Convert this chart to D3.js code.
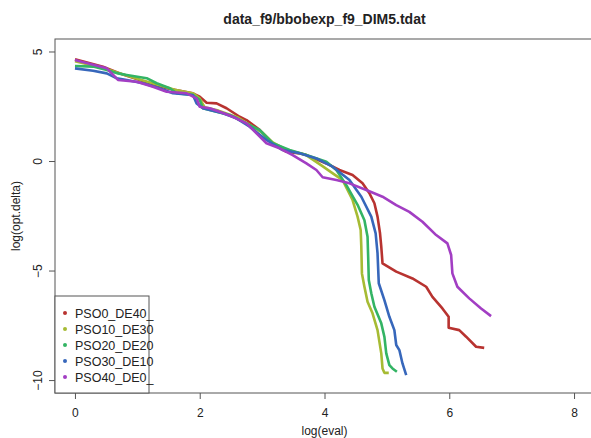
<!DOCTYPE html>
<html>
<head>
<meta charset="utf-8">
<script src="https://cdn.jsdelivr.net/npm/d3@7"></script>
<style>
  body { margin: 0; background: #fff; }
  text { font-family: "Liberation Sans", Arial, sans-serif; fill: #222; }
</style>
</head>
<body>
<script>
// series names, as in the legend
const seriesNames = ['PSO0_DE40_', 'PSO10_DE30', 'PSO20_DE20', 'PSO30_DE10', 'PSO40_DE0_'];
const seriesColors = ['#b83330', '#a6bb33', '#33b464', '#3767bb', '#a23ec3'];

// log(eval) / log(opt.delta)
const pso0_x = [0, 0.45, 0.72, 1.04, 1.47, 1.89, 2.0, 2.11, 2.27, 2.43, 2.64, 2.75, 2.96, 3.17, 3.39, 3.6, 3.71, 4.03, 4.24, 4.45, 4.61, 4.72, 4.8, 4.85, 4.89, 4.91, 4.93, 5.15, 5.41, 5.63, 5.73, 5.89, 5.99, 5.99, 6.16, 6.27, 6.43, 6.56];
const pso0_y = [4.64, 4.3, 4.0, 3.7, 3.32, 3.09, 2.94, 2.66, 2.63, 2.41, 2.02, 1.87, 1.42, 0.81, 0.42, 0.35, 0.27, -0.11, -0.41, -0.64, -1.02, -1.47, -1.93, -2.54, -3.3, -3.91, -4.67, -5.05, -5.36, -5.74, -6.2, -6.73, -7.11, -7.61, -7.72, -8.02, -8.48, -8.53];

const pso10_x = [0, 0.3, 0.5, 0.7, 1.0, 1.3, 1.6, 1.9, 2.0, 2.08, 2.3, 2.6, 2.8, 3.0, 3.17, 3.4, 3.7, 3.95, 4.15, 4.29, 4.45, 4.53, 4.58, 4.59, 4.6, 4.64, 4.69, 4.77, 4.85, 4.91, 4.93, 4.96, 5.03];
const pso10_y = [4.55, 4.35, 4.2, 4.02, 3.75, 3.5, 3.25, 3.08, 2.85, 2.45, 2.3, 2.0, 1.65, 1.3, 0.85, 0.5, 0.28, -0.2, -0.6, -0.87, -1.78, -2.54, -3.15, -3.91, -5.13, -5.74, -6.42, -6.95, -7.72, -8.78, -9.47, -9.67, -9.67];

const pso20_x = [0, 0.29, 0.51, 0.69, 0.83, 1.15, 1.31, 1.52, 1.63, 1.89, 2.0, 2.05, 2.27, 2.48, 2.8, 2.96, 3.17, 3.44, 3.71, 4.03, 4.19, 4.35, 4.53, 4.64, 4.69, 4.7, 4.71, 4.75, 4.8, 4.91, 4.96, 4.99, 5.04, 5.09, 5.16];
const pso20_y = [4.34, 4.31, 4.16, 4.0, 3.93, 3.78, 3.55, 3.32, 3.09, 3.01, 2.79, 2.41, 2.25, 2.1, 1.64, 1.42, 0.81, 0.5, 0.27, -0.03, -0.41, -1.1, -2.0, -2.7, -3.46, -4.37, -5.43, -6.04, -6.65, -7.41, -8.02, -8.78, -9.32, -9.47, -9.62];

const pso30_x = [0, 0.29, 0.51, 0.67, 0.83, 1.09, 1.36, 1.57, 1.89, 1.95, 2.05, 2.37, 2.59, 2.8, 3.07, 3.33, 3.6, 3.87, 4.13, 4.4, 4.59, 4.75, 4.82, 4.85, 4.87, 4.96, 5.04, 5.12, 5.15, 5.2, 5.25, 5.31];
const pso30_y = [4.23, 4.12, 4.0, 3.78, 3.7, 3.55, 3.32, 3.09, 3.01, 2.63, 2.41, 2.18, 1.95, 1.57, 0.96, 0.5, 0.35, 0.12, -0.26, -0.87, -1.63, -2.54, -3.3, -4.21, -5.58, -6.35, -7.11, -7.72, -8.4, -8.63, -9.24, -9.77];

const pso40_x = [0, 0.51, 0.69, 0.99, 1.25, 1.47, 1.79, 1.95, 2.0, 2.16, 2.32, 2.53, 2.75, 2.91, 3.07, 3.28, 3.49, 3.71, 3.87, 3.97, 4.19, 4.4, 4.67, 4.93, 5.15, 5.36, 5.57, 5.79, 5.97, 6.03, 6.05, 6.13, 6.32, 6.51, 6.67];
const pso40_y = [4.61, 4.23, 3.7, 3.62, 3.39, 3.16, 3.09, 2.86, 2.48, 2.41, 2.25, 2.02, 1.72, 1.26, 0.81, 0.58, 0.27, -0.11, -0.41, -0.74, -0.87, -1.02, -1.32, -1.63, -2.01, -2.32, -2.77, -3.38, -3.76, -4.29, -5.13, -5.74, -6.27, -6.73, -7.08];

const xTicks = [0, 2, 4, 6, 8];
const yTicks = [-10, -5, 0, 5];

const seriesX = [pso0_x, pso10_x, pso20_x, pso30_x, pso40_x];
const seriesY = [pso0_y, pso10_y, pso20_y, pso30_y, pso40_y];

const width = 591, height = 438;
const plotLeft = 55, plotTop = 39, plotBottom = 393, plotRight = 594;

const svg = d3.select('body').append('svg')
  .attr('width', width)
  .attr('height', height);

const x = d3.scaleLinear().domain([-0.32, 8.32]).range([plotLeft, plotRight]);
const y = d3.scaleLinear().domain([-10.59, 5.57]).range([plotBottom, plotTop]);

// curves
const line = d3.line()
  .x(d => x(d[0]))
  .y(d => y(d[1]));

seriesNames.forEach((name, i) => {
  const pts = seriesX[i].map((v, j) => [v, seriesY[i][j]]);
  svg.append('path')
    .attr('d', line(pts))
    .attr('fill', 'none')
    .attr('stroke', seriesColors[i])
    .attr('stroke-width', 2.6)
    .attr('stroke-linejoin', 'round');
});

// axes, R style
const xAxis = svg.append('g')
  .attr('transform', `translate(0,${plotBottom})`)
  .call(d3.axisBottom(x).tickValues(xTicks).tickSize(6).tickPadding(9));
xAxis.select('.domain').remove();
xAxis.selectAll('line').attr('stroke', '#555');
xAxis.selectAll('text').style('font-size', '12px').attr('fill', '#222');

const yAxis = svg.append('g')
  .attr('transform', `translate(${plotLeft},0)`)
  .call(d3.axisLeft(y).tickValues(yTicks).tickSize(6));
yAxis.select('.domain').remove();
yAxis.selectAll('line').attr('stroke', '#555');
yAxis.selectAll('text')
  .style('font-size', '12px')
  .attr('fill', '#222')
  .attr('text-anchor', 'middle')
  .attr('dy', null)
  .attr('x', 0).attr('y', 0)
  .attr('transform', `translate(${41.5 - plotLeft},0) rotate(-90)`);

// plot box
svg.append('rect')
  .attr('x', plotLeft).attr('y', plotTop)
  .attr('width', plotRight - plotLeft).attr('height', plotBottom - plotTop)
  .attr('fill', 'none').attr('stroke', '#555').attr('stroke-width', 1);

// titles
svg.append('text')
  .attr('x', (plotLeft + plotRight) / 2).attr('y', 24)
  .attr('text-anchor', 'middle')
  .style('font-size', '14px').style('font-weight', 'bold')
  .text('data_f9/bbobexp_f9_DIM5.tdat');

svg.append('text')
  .attr('x', (plotLeft + plotRight) / 2).attr('y', 435)
  .attr('text-anchor', 'middle')
  .style('font-size', '12px')
  .text('log(eval)');

svg.append('text')
  .attr('transform', `translate(20,${(plotTop + plotBottom) / 2}) rotate(-90)`)
  .attr('text-anchor', 'middle')
  .style('font-size', '12px')
  .text('log(opt.delta)');

// legend
const legend = svg.append('g');
legend.append('rect')
  .attr('x', plotLeft).attr('y', 296)
  .attr('width', 94).attr('height', plotBottom - 296)
  .attr('fill', '#fff').attr('stroke', '#555');

seriesNames.forEach((name, i) => {
  const ly = 313 + i * 16;
  legend.append('circle')
    .attr('cx', 65).attr('cy', ly)
    .attr('r', 2).attr('fill', seriesColors[i]);
  legend.append('text')
    .attr('x', 75).attr('y', ly + 4.5)
    .style('font-size', '12.5px')
    .text(name);
});
</script>
</body>
</html>
